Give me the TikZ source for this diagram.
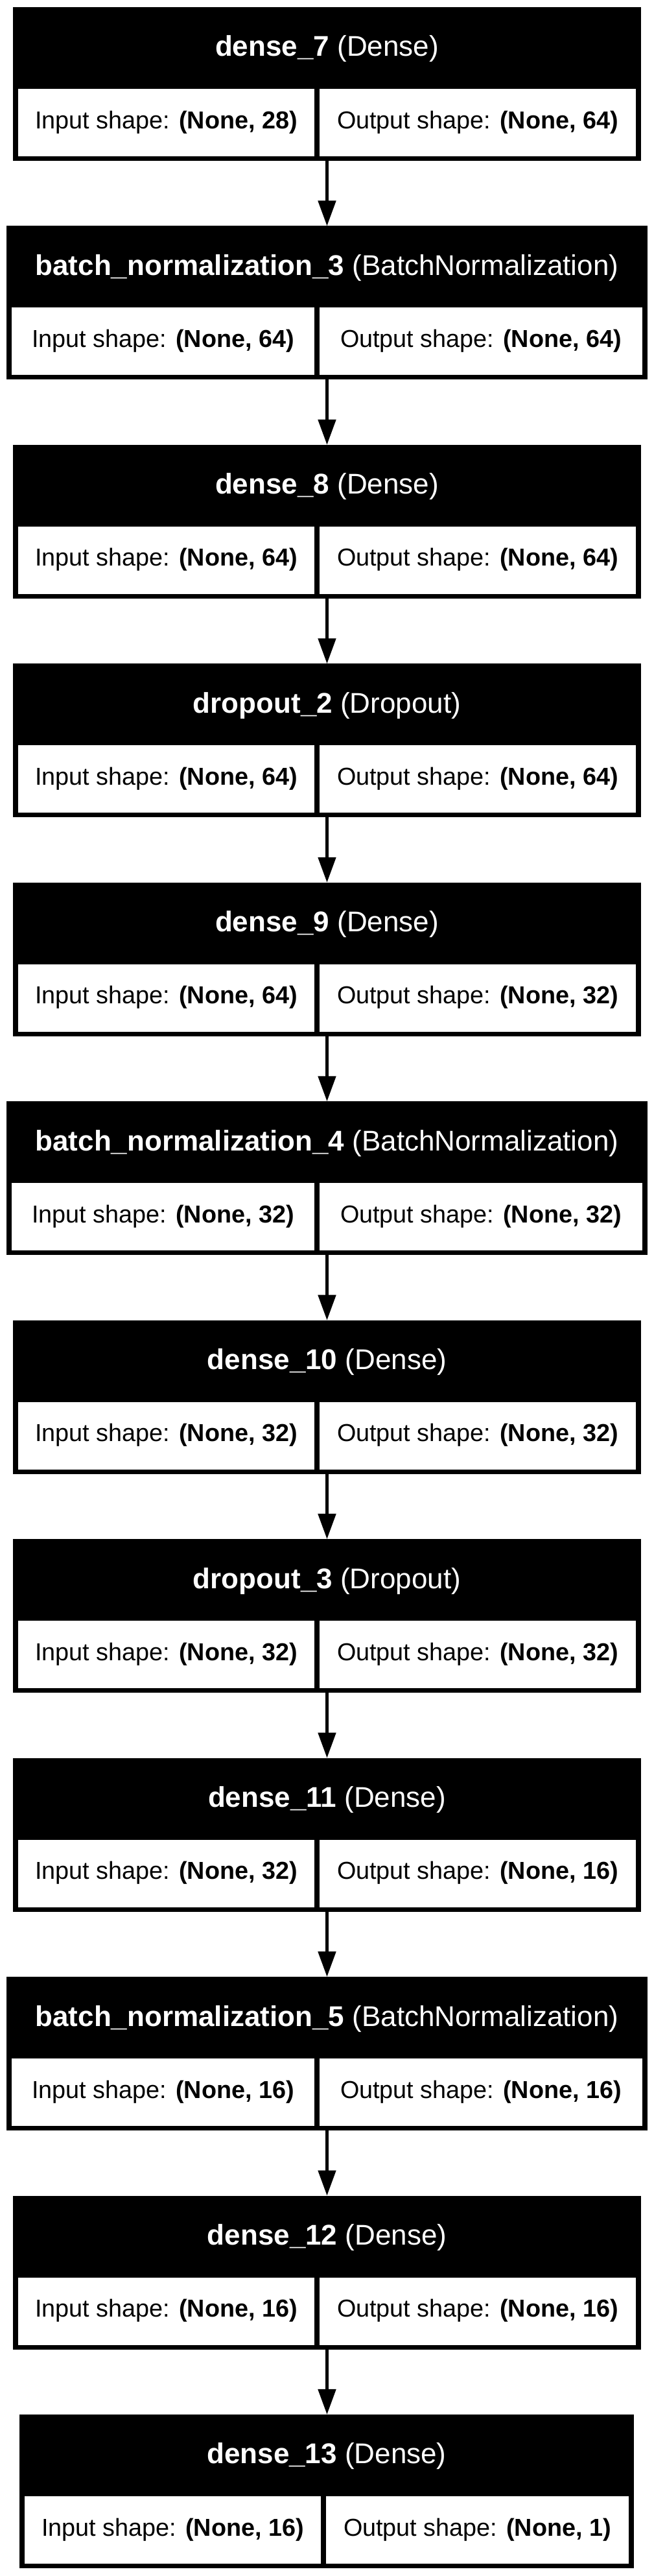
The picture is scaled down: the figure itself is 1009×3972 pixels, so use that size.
\documentclass[tikz,border=0pt]{standalone}
\usepackage{fontspec}
\setmainfont{Liberation Sans}
\usetikzlibrary{arrows.meta}
\newcommand{\ttlfont}{\fontsize{15.84}{19}\selectfont}
\newcommand{\celfont}{\fontsize{13.6}{16}\selectfont}
\tikzset{
  blkbox/.style={fill=black, draw=none, inner sep=0pt, outer sep=0pt},
  cellbox/.style={fill=white, draw=none, inner sep=0pt, outer sep=0pt},
  ttltext/.style={text=white, inner sep=0pt, outer sep=0pt, anchor=base, font=\ttlfont},
  celltext/.style={text=black, inner sep=0pt, outer sep=0pt, anchor=base, font=\celfont},
  flow/.style={line width=1.8pt, -{Triangle[length=14.04pt, width=9.72pt]}},
}
% #1 index, #2 name, #3 class, #4 in, #5 out, #6 left, #7 right, #8 divider (left cell right edge)
\newcommand{\layerblock}[8]{%
  \pgfmathsetmacro{\Ttop}{11+#1*337.45}%
  \node[blkbox, minimum width={(#7-#6)*0.36pt}, minimum height={237*0.36pt}]
    (b#1) at ({(#6+#7)/2},{\Ttop+118.5}) {};
  \node[cellbox, minimum width={(#8-#6-8)*0.36pt}, minimum height={104*0.36pt}]
    (l#1) at ({(#6+8+#8)/2},{\Ttop+178}) {};
  \node[cellbox, minimum width={(#7-#8-16)*0.36pt}, minimum height={104*0.36pt}]
    (r#1) at ({(#8+#7)/2},{\Ttop+178}) {};
  \node[ttltext] (t#1) at ({(#6+#7)/2},{\Ttop+76}) {\textbf{#2} (#3)};
  \node[celltext] (li#1) at ({(#6+8+#8)/2},{\Ttop+187}) {Input shape: \textbf{(None, #4)}};
  \node[celltext] (ro#1) at ({(#8+#7)/2},{\Ttop+187}) {Output shape: \textbf{(None, #5)}};
}
\begin{document}
\begin{tikzpicture}[x=0.36pt, y=-0.36pt]
  \useasboundingbox[fill=white] (0,0) rectangle (1009,3972);
  \layerblock{0}{dense\_7}{Dense}{28}{64}{20}{989}{485}
  \layerblock{1}{batch\_normalization\_3}{BatchNormalization}{64}{64}{10}{999}{485}
  \layerblock{2}{dense\_8}{Dense}{64}{64}{20}{989}{485}
  \layerblock{3}{dropout\_2}{Dropout}{64}{64}{20}{989}{485}
  \layerblock{4}{dense\_9}{Dense}{64}{32}{20}{989}{485}
  \layerblock{5}{batch\_normalization\_4}{BatchNormalization}{32}{32}{10}{999}{485}
  \layerblock{6}{dense\_10}{Dense}{32}{32}{20}{989}{485}
  \layerblock{7}{dropout\_3}{Dropout}{32}{32}{20}{989}{485}
  \layerblock{8}{dense\_11}{Dense}{32}{16}{20}{989}{485}
  \layerblock{9}{batch\_normalization\_5}{BatchNormalization}{16}{16}{10}{999}{485}
  \layerblock{10}{dense\_12}{Dense}{16}{16}{20}{989}{485}
  \layerblock{11}{dense\_13}{Dense}{16}{1}{30}{978}{495}
  \foreach \i [evaluate=\i as \j using int(\i+1)] in {0,...,10} {
    \draw[flow] (b\i.south) -- (b\i.south |- b\j.north);
  }
\end{tikzpicture}
\end{document}
